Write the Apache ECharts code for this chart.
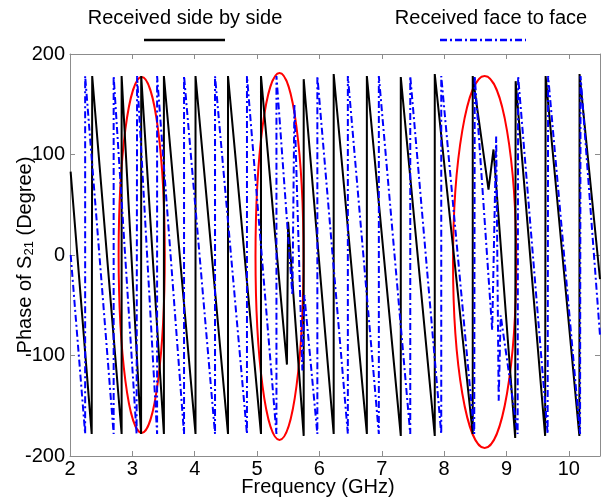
<!DOCTYPE html>
<html><head><meta charset="utf-8">
<script src="https://cdn.jsdelivr.net/npm/echarts@6/dist/echarts.min.js"></script>
<style>html,body{margin:0;padding:0;background:#fff}#c{width:607px;height:499px}</style>
</head><body><div id="c"></div>
<script>
// Tick labels
const xTicks = [2, 3, 4, 5, 6, 7, 8, 9, 10];
const yTicks = [-200, -100, 0, 100, 200];
const xMax = 10.5;

// Received side by side (black solid)
const sideFreq = [2.01, 2.348, 2.356, 2.828, 2.828, 3.140, 3.142, 3.506, 3.506, 4.013, 4.013, 4.534, 4.534, 5.063, 5.063, 5.295, 5.479, 5.498, 5.748, 5.748, 6.229, 6.229, 6.761, 6.761, 7.305, 7.305, 7.850, 7.850, 8.459, 8.459, 8.712, 8.792, 9.140, 9.147, 9.620, 9.628, 10.169, 10.172, 10.50];
const sidePhase = [83, -178, 178, -178, 178, -178, 178, -178, 178, -178, 178, -178, 178, -178, 178, 16, -109, 33, -180, 175, -178, 180, -178, 178, -180, 177, -180, 180, -178, 178, 65, 105, -182, 173, -180, 178, -180, 180, -24];

// Received face to face (blue dash-dot)
const faceFreq = [2.011, 2.243, 2.243, 2.700, 2.700, 3.068, 3.076, 3.397, 3.397, 3.829, 3.829, 4.326, 4.326, 4.838, 4.838, 5.311, 5.311, 5.567, 5.599, 5.727, 5.759, 5.967, 5.967, 6.456, 6.456, 6.953, 6.953, 7.457, 7.457, 7.954, 7.954, 8.483, 8.491, 8.771, 8.835, 8.875, 8.907, 9.179, 9.187, 9.660, 9.668, 10.180, 10.188, 10.50];
const facePhase = [0, -178, 178, -178, 178, -178, 178, -178, 178, -178, 178, -178, 178, -178, 178, -178, 178, -40, 150, -115, -40, -178, 178, -178, 178, -178, 178, -178, 178, -178, 178, -178, 178, -75, 118, -145, -60, -178, 178, -178, 178, -178, 178, -80];

// Highlight ellipses (center freq, center phase, half width GHz, half height deg)
const ellipseFreq = [3.15, 5.36, 8.65];
const ellipsePhase = [0, -1.5, -7];
const ellipseHalfWidth = [0.37, 0.385, 0.507];
const ellipseHalfHeight = [177, 182.5, 185];

const FONT = '"Liberation Sans", Arial, sans-serif';
const axisCol = '#8c8c8c';

const chart = echarts.init(document.getElementById('c'), null, {renderer: 'canvas'});

function baseAxis(extra) {
  return Object.assign({
    type: 'value',
    axisLine: {show: true, onZero: false, lineStyle: {color: axisCol, width: 1}},
    axisTick: {show: true, inside: true, length: 5, lineStyle: {color: axisCol}},
    splitLine: {show: false}
  }, extra);
}

const option = {
  backgroundColor: '#fff',
  animation: false,
  grid: {left: 70, right: 7, top: 54, bottom: 43, containLabel: false, outerBoundsMode: 'none'},
  xAxis: [
    baseAxis({
      min: xTicks[0], max: xMax, interval: xTicks[1] - xTicks[0], position: 'bottom',
      axisLabel: {color: '#000', fontSize: 20, fontFamily: FONT, margin: 3,
        formatter: v => xTicks.includes(v) ? String(v) : ''},
      name: 'Frequency (GHz)', nameLocation: 'middle', nameGap: 21, nameMoveOverlap: false,
      nameTextStyle: {color: '#000', fontSize: 20, fontFamily: FONT, padding: [0, 34, 0, 0]}
    }),
    baseAxis({
      min: xTicks[0], max: xMax, interval: xTicks[1] - xTicks[0], position: 'top',
      axisLabel: {show: false}
    })
  ],
  yAxis: [
    baseAxis({
      min: yTicks[0], max: yTicks[yTicks.length - 1], interval: yTicks[1] - yTicks[0], position: 'left',
      axisLabel: {color: '#000', fontSize: 20, fontFamily: FONT, margin: 5},
      name: 'Phase of S{s|21} (Degree)', nameLocation: 'middle', nameGap: 34, nameMoveOverlap: false,
      nameTextStyle: {color: '#000', fontSize: 20, fontFamily: FONT,
        rich: {s: {fontSize: 13, fontFamily: FONT, color: '#000', verticalAlign: 'bottom', padding: [9, 0, 0, 0]}}}
    }),
    baseAxis({
      min: yTicks[0], max: yTicks[yTicks.length - 1], interval: yTicks[1] - yTicks[0], position: 'right',
      axisLabel: {show: false}
    })
  ],
  graphic: [
    {type: 'text', x: 185, y: 18, style: {text: 'Received side by side', font: '20px ' + FONT, fill: '#000',
      align: 'center', verticalAlign: 'middle', textAlign: 'center', textVerticalAlign: 'middle'}},
    {type: 'line', shape: {x1: 144, y1: 40, x2: 225, y2: 40}, style: {stroke: '#000', lineWidth: 2.5}},
    {type: 'text', x: 491, y: 18, style: {text: 'Received face to face', font: '20px ' + FONT, fill: '#000',
      align: 'center', verticalAlign: 'middle', textAlign: 'center', textVerticalAlign: 'middle'}},
    {type: 'line', shape: {x1: 440, y1: 40, x2: 526, y2: 40}, style: {stroke: '#0000ff', lineWidth: 2.5, lineDash: [7, 3, 2, 3]}}
  ],
  series: [
    {
      type: 'custom', name: 'highlight', coordinateSystem: 'cartesian2d', silent: true, z: 1,
      data: ellipseFreq.map((f, i) => [f, ellipsePhase[i], ellipseHalfWidth[i], ellipseHalfHeight[i]]),
      encode: {x: 0, y: 1},
      renderItem: function (params, api) {
        const c = api.coord([api.value(0), api.value(1)]);
        const s = api.size([api.value(2), api.value(3)]);
        return {type: 'ellipse', shape: {cx: c[0], cy: c[1], rx: s[0], ry: s[1]},
          style: {fill: null, stroke: '#ff0000', lineWidth: 2}};
      }
    },
    {
      type: 'line', name: 'Received side by side', z: 2,
      data: sideFreq.map((f, i) => [f, sidePhase[i]]),
      showSymbol: false, symbol: 'none',
      lineStyle: {color: '#000', width: 2}
    },
    {
      type: 'line', name: 'Received face to face', z: 3,
      data: faceFreq.map((f, i) => [f, facePhase[i]]),
      showSymbol: false, symbol: 'none',
      lineStyle: {color: '#0000ff', width: 2, type: [7, 3, 2, 3]}
    }
  ]
};
chart.setOption(option);
</script>
</body></html>
